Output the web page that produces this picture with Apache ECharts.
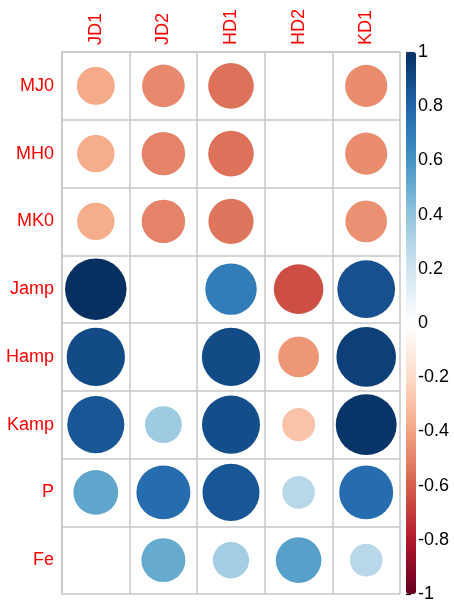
<!DOCTYPE html>
<html>
<head>
<meta charset="utf-8">
<script src="https://cdn.jsdelivr.net/npm/echarts@6/dist/echarts.min.js"></script>
<style>
  html, body { margin: 0; padding: 0; background: #fff; }
  #main { width: 454px; height: 604px; }
</style>
</head>
<body>
<div id="main"></div>
<script>
// column and row names
var colNames = ['JD1', 'JD2', 'HD1', 'HD2', 'KD1'];
var rowNames = ['MJ0', 'MH0', 'MK0', 'Jamp', 'Hamp', 'Kamp', 'P', 'Fe'];

// correlations, one array per row
var rMJ0  = [-0.38, -0.48, -0.55, 0, -0.47];
var rMH0  = [-0.37, -0.50, -0.55, 0, -0.47];
var rMK0  = [-0.37, -0.50, -0.54, 0, -0.46];
var rJamp = [1.00, 0, 0.70, -0.65, 0.88];
var rHamp = [0.90, 0, 0.90, -0.44, 0.94];
var rKamp = [0.86, 0.36, 0.89, -0.29, 0.98];
var rP    = [0.53, 0.77, 0.86, 0.28, 0.77];
var rFe   = [0, 0.51, 0.35, 0.55, 0.28];

var rdbu = ['#67001F', '#B2182B', '#D6604D', '#F4A582', '#FDDBC7', '#FFFFFF',
            '#D1E5F0', '#92C5DE', '#4393C3', '#2166AC', '#053061'];

var rows = [rMJ0, rMH0, rMK0, rJamp, rHamp, rKamp, rP, rFe];
var points = [];
rows.forEach(function (row, i) {
  row.forEach(function (v, j) {
    points.push([j, i, v]);
  });
});

var maxDiam = 61.5;
var lab = { color: '#ff0000', fontSize: 18, fontFamily: 'Liberation Sans, Arial, sans-serif' };
var gridLine = { show: true, lineStyle: { color: '#c6c6c6', width: 1.5 } };

var myChart = echarts.init(document.getElementById('main'));
myChart.setOption({
  animation: false,
  backgroundColor: '#fff',
  grid: [
    { left: 62, top: 52, width: 338, height: 542 },
    { left: 406, top: 52, width: 10, height: 542 }
  ],
  xAxis: [
    {
      gridIndex: 0, type: 'category', data: colNames, position: 'top',
      axisLine: gridLine, axisTick: { show: false }, splitLine: gridLine,
      axisLabel: Object.assign({ rotate: -90, margin: 7 }, lab)
    },
    { gridIndex: 1, type: 'value', show: false }
  ],
  yAxis: [
    {
      gridIndex: 0, type: 'category', data: rowNames, inverse: true,
      axisLine: gridLine, axisTick: { show: false }, splitLine: gridLine,
      axisLabel: Object.assign({ margin: 8 }, lab)
    },
    {
      gridIndex: 1, type: 'value', position: 'right', min: -1, max: 1, interval: 0.2,
      axisLine: { show: false }, splitLine: { show: false },
      axisTick: { show: true, length: 5, lineStyle: { color: '#000', width: 1.2 } },
      axisLabel: {
        margin: 2, fontSize: 18, color: '#000', fontFamily: 'Liberation Sans, Arial, sans-serif',
        formatter: function (v) {
          var r = Math.round(v * 10) / 10;
          return r === 0 ? '0' : String(r);
        }
      }
    }
  ],
  visualMap: {
    type: 'continuous', min: -1, max: 1, dimension: 2, seriesIndex: 0,
    calculable: false, left: 406, top: 52, itemWidth: 10, itemHeight: 542,
    padding: 0, inRange: { color: rdbu }
  },
  series: [
    {
      type: 'scatter', xAxisIndex: 0, yAxisIndex: 0, data: points,
      symbolSize: function (d) { return maxDiam * Math.sqrt(Math.abs(d[2])); },
      itemStyle: { opacity: 1 }
    }
  ]
});
</script>
</body>
</html>
